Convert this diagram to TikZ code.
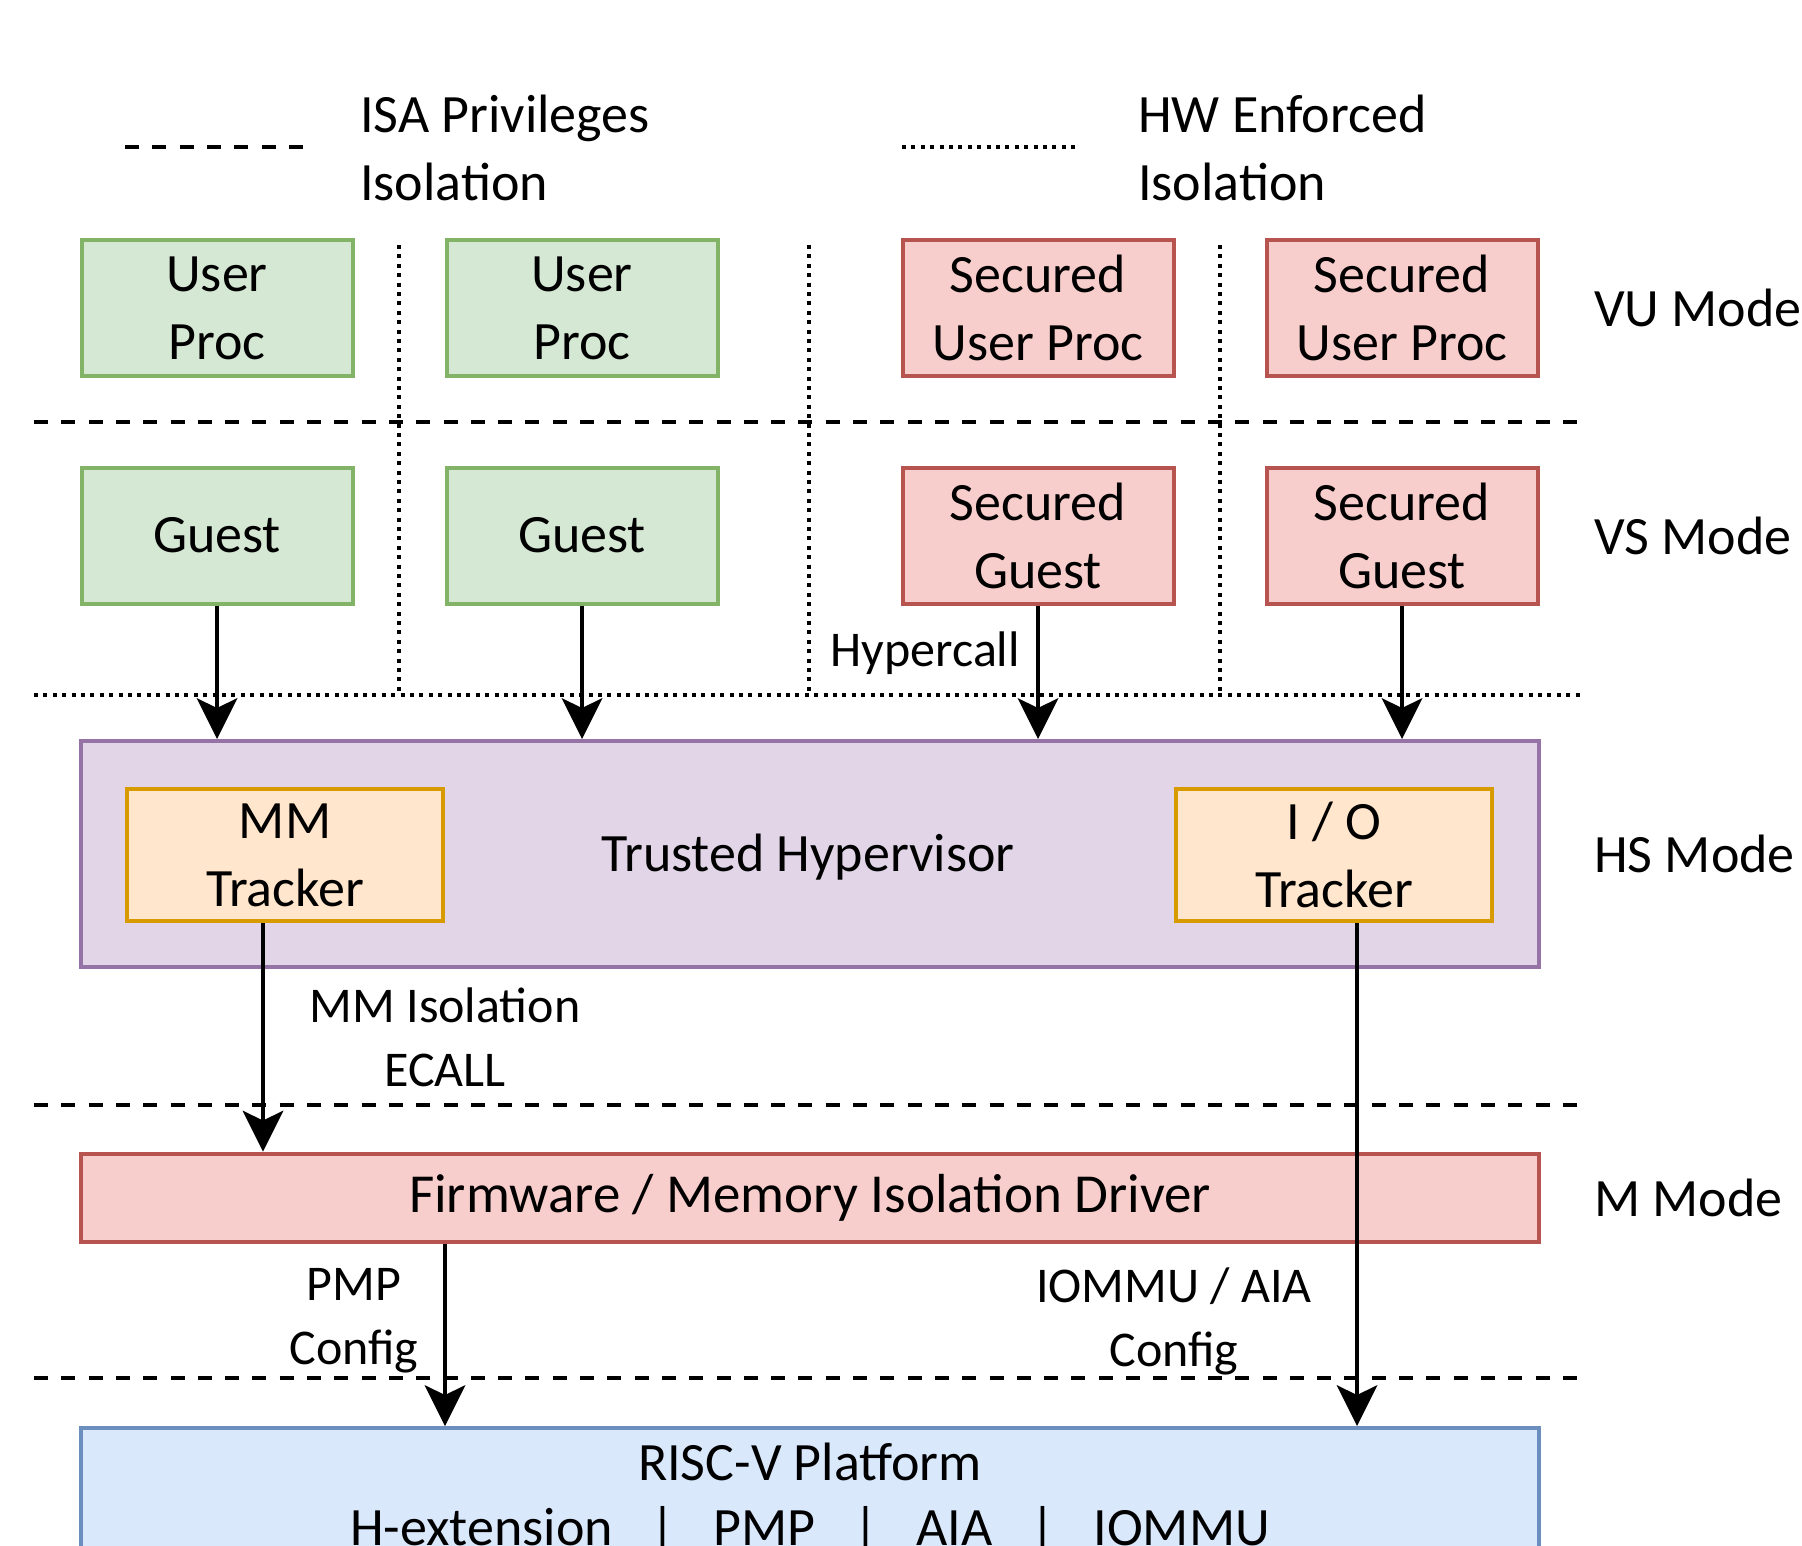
\documentclass[tikz,border=0pt]{standalone}
\usepackage{fontspec}
\setmainfont{Carlito}
\usetikzlibrary{arrows.meta}

\definecolor{gfill}{HTML}{D5E8D4}
\definecolor{gline}{HTML}{82B366}
\definecolor{rfill}{HTML}{F8CECC}
\definecolor{rline}{HTML}{B85450}
\definecolor{pfill}{HTML}{E1D5E7}
\definecolor{pline}{HTML}{9673A6}
\definecolor{ofill}{HTML}{FFE6CC}
\definecolor{oline}{HTML}{D79B00}
\definecolor{bfill}{HTML}{DAE8FC}
\definecolor{bline}{HTML}{6C8EBF}

\newcommand\diagfont{\fontsize{54pt}{68pt}\selectfont}
\newcommand\edgefont{\fontsize{50pt}{64pt}\selectfont}

\begin{document}
\begin{tikzpicture}[x=1pt, y=-1pt,
  box/.style={draw, line width=4pt, inner sep=0pt, align=center, font=\diagfont},
  procbox/.style={box, minimum width=271pt, minimum height=136pt},
  gbox/.style={procbox, fill=gfill, draw=gline},
  rbox/.style={procbox, fill=rfill, draw=rline},
  widebox/.style={box, minimum width=1458pt},
  trackbox/.style={box, fill=ofill, draw=oline, minimum width=316pt, minimum height=132pt},
  lbl/.style={inner sep=0pt, font=\diagfont},
  elbl/.style={inner sep=0pt, align=center, font=\edgefont},
  arr/.style={line width=4pt, -{Stealth[length=41pt, width=41pt, inset=10pt, line width=0pt]}},
  privline/.style={line width=4pt, dash pattern=on 14pt off 13.3pt},
  hwline/.style={line width=4pt, dash pattern=on 4pt off 5.4pt}
]
\clip (0,0) rectangle (1802,1546);
\fill[white] (0,0) rectangle (1802,1546);

% legend
\draw[privline] (125,147) -- (305,147);
\node[lbl, align=left, anchor=west] (legisa) at (360,148) {ISA Privileges\\Isolation};
\draw[hwline] (902,147) -- (1080,147);
\node[lbl, align=left, anchor=west] (leghw) at (1138,148) {HW Enforced\\Isolation};

% privilege level separators
\draw[privline] (34,422) -- (1584,422);
\draw[hwline]   (34,695) -- (1584,695);
\draw[privline] (34,1105) -- (1584,1105);
\draw[privline] (34,1378) -- (1584,1378);

% hardware enforced partitions
\foreach \xx in {399,809,1220}
  \draw[hwline] (\xx,245) -- (\xx,695);

% VU mode
\node[gbox] (up1) at (217,308) {User\\Proc};
\node[gbox] (up2) at (582,308) {User\\Proc};
\node[rbox] (sup1) at (1038,308) {Secured\\User Proc};
\node[rbox] (sup2) at (1402,308) {Secured\\User Proc};

% VS mode
\node[gbox] (g1) at (217,535.5) {Guest};
\node[gbox] (g2) at (582,535.5) {Guest};
\node[rbox] (sg1) at (1038,535.5) {Secured\\Guest};
\node[rbox] (sg2) at (1402,535.5) {Secured\\Guest};

% HS mode
\node[widebox, fill=pfill, draw=pline, minimum height=226pt] (hs) at (810,854) {};
\node[lbl] (hstext) at (808,857) {Trusted Hypervisor};
\node[trackbox] (mm) at (285,855) {MM\\Tracker};
\node[trackbox] (io) at (1334,855) {I / O\\Tracker};

% M mode
\node[widebox, fill=rfill, draw=rline, minimum height=88pt,
      font=\fontsize{55pt}{68pt}\selectfont] (fw) at (810,1197.5) {Firmware / Memory Isolation Driver};

% platform
\node[widebox, fill=bfill, draw=bline, minimum height=142pt, anchor=north,
      font=\fontsize{54pt}{65pt}\selectfont] (rv) at (810,1426)
  {RISC-V Platform\\H-extension\hspace{38pt}|\hspace{38pt}PMP\hspace{38pt}|\hspace{38pt}AIA\hspace{38pt}|\hspace{38pt}IOMMU};

% mode labels
\node[lbl, anchor=west] (vu) at (1594,308) {VU Mode};
\node[lbl, anchor=west] (vs) at (1594,535.5) {VS Mode};
\node[lbl, anchor=west] (hsl) at (1594,854) {HS Mode};
\node[lbl, anchor=west] (ml) at (1594,1197.5) {M Mode};

% calls into the hypervisor
\draw[arr] (g1.south) -- (g1.south |- hs.north);
\draw[arr] (g2.south) -- (g2.south |- hs.north);
\draw[arr] (sg1.south) -- (sg1.south |- hs.north);
\draw[arr] (sg2.south) -- (sg2.south |- hs.north);
\node[elbl, anchor=east] (hcall) at (1020,653) {Hypercall};

% trackers down to firmware and platform
\coordinate (mmx) at (263,0);
\coordinate (pmpx) at (445,0);
\coordinate (iox) at (1357,0);
\draw[arr] (mmx |- mm.south) -- (mmx |- fw.north);
\draw[arr] (pmpx |- fw.south) -- (pmpx |- rv.north);
\draw[arr] (iox |- io.south) -- (iox |- rv.north);

\node[elbl] (ecall) at (445,1037) {MM Isolation\\ECALL};
\node[elbl] (pmpcfg) at (354,1321) {PMP\\Config};
\node[elbl] (iocfg) at (1174,1321) {IOMMU / AIA\\Config};
\end{tikzpicture}
\end{document}
